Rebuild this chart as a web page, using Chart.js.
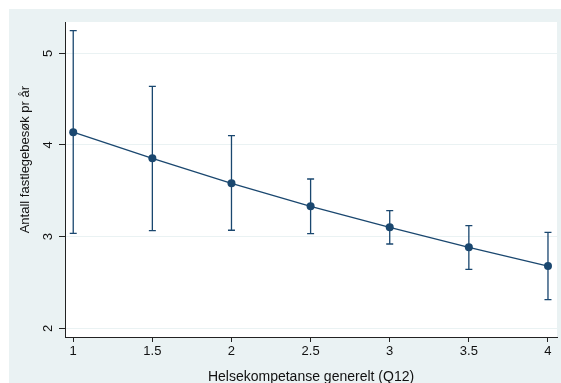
<!DOCTYPE html>
<html>
<head>
<meta charset="utf-8">
<script src="https://cdn.jsdelivr.net/npm/chart.js@4.4.1/dist/chart.umd.min.js"></script>
<style>
    html, body { margin: 0; padding: 0; background: #fff; }
    #wrap { width: 561px; height: 383px; }
</style>
</head>
<body>
<div id="wrap"><canvas id="chart" width="561" height="383"></canvas></div>
<script>
// Data (margins with 95% CI)
const xValues = [1, 1.5, 2, 2.5, 3, 3.5, 4];
const meanValues = [4.14, 3.855, 3.582, 3.331, 3.102, 2.884, 2.680];
const ciLower = [3.037, 3.065, 3.070, 3.033, 2.920, 2.644, 2.313];
const ciUpper = [5.246, 4.640, 4.101, 3.629, 3.284, 3.120, 3.048];

const xTicks = [1, 1.5, 2, 2.5, 3, 3.5, 4];
const yTicks = [2, 3, 4, 5];

const xTitle = 'Helsekompetanse generelt (Q12)';
const yTitle = 'Antall fastlegebesøk pr år';

const navy = '#1a476f';
const regionColor = '#eaf2f3';

// Stata-like graph region + white plot region
const backgroundPlugin = {
    id: 'background',
    beforeDraw(chart) {
        const { ctx, chartArea } = chart;
        ctx.save();
        ctx.fillStyle = '#ffffff';
        ctx.fillRect(0, 0, chart.width, chart.height);
        ctx.fillStyle = regionColor;
        ctx.fillRect(9, 9, chart.width - 9, chart.height - 9);
        ctx.fillStyle = '#ffffff';
        ctx.fillRect(chartArea.left, chartArea.top, chartArea.right - chartArea.left, chartArea.bottom - chartArea.top);
        ctx.restore();
    }
};

// Capped confidence interval bars, drawn under the line
const errorBarPlugin = {
    id: 'errorBars',
    beforeDatasetsDraw(chart) {
        const { ctx, scales } = chart;
        const x = scales.x;
        const y = scales.y;
        ctx.save();
        ctx.strokeStyle = navy;
        ctx.lineWidth = 1.3;
        xValues.forEach((xv, i) => {
            const px = x.getPixelForValue(xv);
            const top = y.getPixelForValue(ciUpper[i]);
            const bottom = y.getPixelForValue(ciLower[i]);
            ctx.beginPath();
            ctx.moveTo(px, top);
            ctx.lineTo(px, bottom);
            ctx.moveTo(px - 3.5, top);
            ctx.lineTo(px + 3.5, top);
            ctx.moveTo(px - 3.5, bottom);
            ctx.lineTo(px + 3.5, bottom);
            ctx.stroke();
        });
        ctx.restore();
    }
};

const ctx = document.getElementById('chart').getContext('2d');

new Chart(ctx, {
    type: 'line',
    data: {
        datasets: [{
            data: xValues.map((xv, i) => ({ x: xv, y: meanValues[i] })),
            borderColor: navy,
            backgroundColor: navy,
            borderWidth: 1.3,
            pointRadius: 4,
            pointBorderWidth: 0,
            pointBackgroundColor: navy,
            tension: 0,
            fill: false
        }]
    },
    options: {
        responsive: false,
        animation: false,
        layout: {
            padding: { left: 0, top: 22, right: 3, bottom: 0 }
        },
        plugins: {
            legend: { display: false },
            tooltip: { enabled: false }
        },
        scales: {
            x: {
                type: 'linear',
                min: 0.948,
                max: 4.057,
                afterBuildTicks: scale => {
                    scale.ticks = xTicks.map(v => ({ value: v }));
                },
                afterFit: scale => {
                    scale.height = 46;
                },
                border: { color: '#222', width: 1 },
                grid: {
                    drawOnChartArea: false,
                    tickColor: '#222',
                    tickLength: 5
                },
                ticks: {
                    color: '#111',
                    padding: 2,
                    maxRotation: 0,
                    callback: value => String(value),
                    font: { family: 'Liberation Sans', size: 13 }
                },
                title: {
                    display: true,
                    text: xTitle,
                    color: '#111',
                    padding: 0,
                    font: { family: 'Liberation Sans', size: 14, lineHeight: 0.8 }
                }
            },
            y: {
                type: 'linear',
                min: 1.906,
                max: 5.341,
                afterBuildTicks: scale => {
                    scale.ticks = yTicks.map(v => ({ value: v }));
                },
                afterFit: scale => {
                    scale.width = 65;
                },
                border: { color: '#222', width: 1 },
                grid: {
                    color: regionColor,
                    lineWidth: 1,
                    tickColor: '#222',
                    tickLength: 6
                },
                ticks: {
                    color: '#111',
                    minRotation: 90,
                    maxRotation: 90,
                    crossAlign: 'center',
                    padding: 7,
                    callback: value => String(value),
                    font: { family: 'Liberation Sans', size: 13 }
                },
                title: {
                    display: true,
                    text: ' '.repeat(11) + yTitle,
                    color: '#111',
                    padding: { top: 18, bottom: 0 },
                    font: { family: 'Liberation Sans', size: 13 }
                }
            }
        }
    },
    plugins: [backgroundPlugin, errorBarPlugin]
});
</script>
</body>
</html>
